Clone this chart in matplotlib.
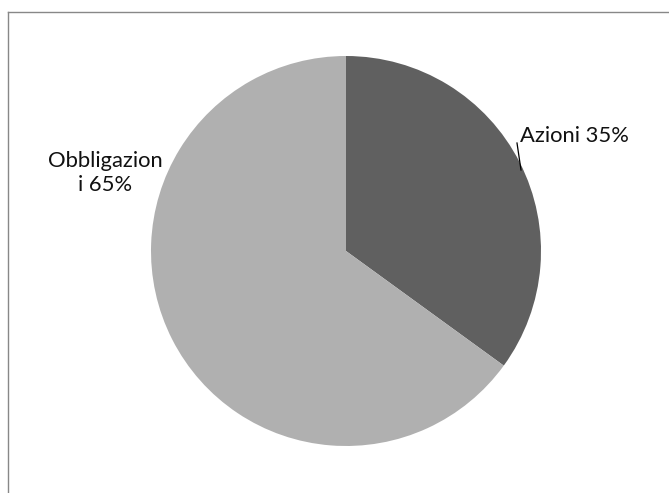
import matplotlib.pyplot as plt
from matplotlib.lines import Line2D

labels = ['Azioni', 'Obbligazioni']
shares = [35, 65]
colors = ['#606060', '#b0b0b0']

W, H = 669, 493
fig = plt.figure(figsize=(W / 100, H / 100), dpi=100)
ax = fig.add_axes([0, 0, 1, 1])

# pie in pixel coords (y measured from bottom)
cx, cy, r = 346, H - 251, 195
ax.pie(shares, colors=colors, startangle=90, counterclock=False,
       center=(cx, cy), radius=r, frame=True,
       wedgeprops={'linewidth': 0})
ax.set_xlim(0, W)
ax.set_ylim(0, H)
ax.set_aspect('equal')
ax.axis('off')

font = 'Lato'
ax.text(520, H - 136, 'Azioni 35%', fontsize=15.8, family=font,
        ha='left', va='center', color='#111111')
ax.plot([517, 521], [H - 143, H - 170], color='black', lw=0.9)
ax.text(105, H - 173, 'Obbligazion\ni 65%', fontsize=15.8, family=font,
        ha='center', va='center', color='#111111', linespacing=1.27)

# partial outer frame
fig.add_artist(Line2D([7.5 / W, 7.5 / W], [0, 1 - 11.5 / H], transform=fig.transFigure,
                      color='#888888', lw=1))
fig.add_artist(Line2D([7.5 / W, 1], [1 - 11.5 / H, 1 - 11.5 / H], transform=fig.transFigure,
                      color='#888888', lw=1))

fig.savefig('out.png', dpi=100, facecolor='white')
